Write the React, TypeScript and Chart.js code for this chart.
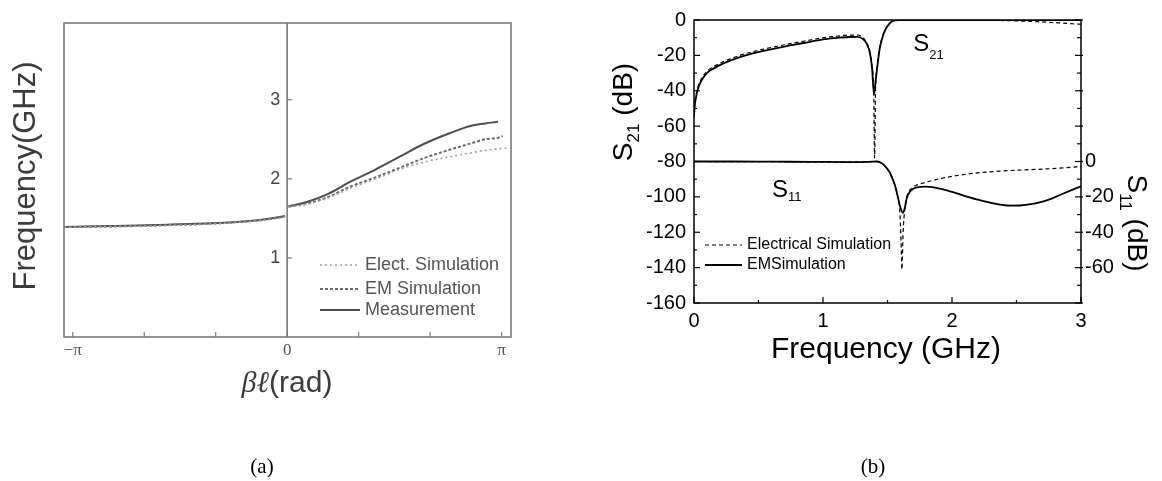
import React, { useEffect, useRef } from "react";
import { Chart, registerables } from "chart.js";
Chart.register(...registerables);

const PI = Math.PI;
const SANS = "'Liberation Sans', Arial, sans-serif";
const SERIF = "'Liberation Serif', 'Times New Roman', serif";

// ---------- Panel (a): dispersion diagram ----------
const betaLeft = [-3.27, -2.8, -2.2, -1.76, -1.2, -0.79, -0.4, -0.15, -0.03];
const measLeft = [1.39, 1.4, 1.41, 1.42, 1.435, 1.45, 1.48, 1.51, 1.53];
const emLeft = [1.39, 1.395, 1.405, 1.415, 1.43, 1.45, 1.475, 1.505, 1.525];
const electLeft = [1.385, 1.395, 1.4, 1.41, 1.425, 1.445, 1.47, 1.5, 1.52];

const betaRight = [0.02, 0.3, 0.6, 0.92, 1.3, 1.65, 2.0, 2.39, 2.7, 2.9, 3.09, 3.16, 3.25];
const measRight = [1.65, 1.71, 1.81, 1.96, 2.12, 2.28, 2.44, 2.58, 2.67, 2.7, 2.72, null, null];
const emRight = [1.65, 1.69, 1.77, 1.9, 2.02, 2.14, 2.26, 2.37, 2.45, 2.5, 2.52, 2.54, null];
const electRight = [1.64, 1.68, 1.76, 1.88, 2.0, 2.12, 2.21, 2.28, 2.33, 2.36, 2.38, 2.385, 2.39];

const aXTicks = [-PI, (-2 * PI) / 3, -PI / 3, 0, PI / 3, (2 * PI) / 3, PI];
const aXTickLabels = ["\u2212\u03c0", "", "", "0", "", "", "\u03c0"];
const aYTicks = [1, 2, 3];
const aYTickLabels = ["1", "2", "3"];
const aLegend = ["Elect. Simulation", "EM Simulation", "Measurement"];

// ---------- Panel (b): S-parameters ----------
const fS21EM = [0, 0.005, 0.015, 0.03, 0.06, 0.1, 0.15, 0.2, 0.28, 0.4, 0.54, 0.7, 0.85, 1.0, 1.1, 1.2, 1.27, 1.31, 1.34, 1.365, 1.38, 1.395, 1.41, 1.42, 1.44, 1.46, 1.48, 1.51, 1.54, 1.6, 1.7, 2.0, 2.5, 3.0];
const s21EM = [-55, -49, -44, -39, -34, -30, -27.5, -25.5, -23, -20, -17.5, -15, -13, -11, -10.2, -9.6, -9.5, -10.8, -13.5, -19, -27, -42, -33, -27, -16, -10, -6, -2.5, -0.6, -0.1, 0, 0, 0, 0];

const fS21El = [0, 0.005, 0.015, 0.03, 0.06, 0.1, 0.15, 0.2, 0.28, 0.4, 0.54, 0.7, 0.85, 1.0, 1.1, 1.2, 1.27, 1.31, 1.34, 1.365, 1.38, 1.393, 1.4, 1.407, 1.42, 1.44, 1.46, 1.48, 1.51, 1.54, 1.6, 1.7, 2.0, 2.4, 2.7, 3.0];
const s21El = [-54, -48, -43, -38, -33, -29, -26.5, -24.5, -22, -19, -16.5, -14, -12, -10, -9.2, -8.5, -8.5, -10, -13, -18.5, -26, -40, -78, -40, -26, -15.5, -9.5, -5.5, -2.3, -0.5, -0.1, 0, 0, -0.3, -1.1, -2.4];

const fS11EM = [0, 0.3, 0.6, 0.9, 1.2, 1.35, 1.42, 1.46, 1.49, 1.52, 1.54, 1.56, 1.58, 1.6, 1.62, 1.635, 1.65, 1.68, 1.73, 1.8, 1.93, 2.19, 2.47, 2.71, 2.85, 3.0];
const s11EM = [0, 0, -0.1, -0.2, -0.3, -0.2, 0, -1.2, -3.4, -6.5, -10, -14, -20, -26, -29, -26, -20.5, -16.5, -14.6, -14.2, -15.8, -21.4, -25, -22.5, -18.5, -14];

const fS11El = [0, 0.6, 1.2, 1.42, 1.46, 1.49, 1.52, 1.54, 1.56, 1.58, 1.595, 1.605, 1.612, 1.62, 1.635, 1.66, 1.7, 1.73, 3.0];
const s11El = [0, -0.1, -0.3, 0, -1.2, -3.4, -6.5, -10, -14, -20, -28, -45, -61, -42, -26, -18, -14.5, -13.2, -2.8];

const bXLabels = [0, 1, 2, 3];
const bYLeftLabels = [0, -20, -40, -60, -80, -100, -120, -140, -160];
const bYRightLabels = [0, -20, -40, -60];
const bLegend = ["Electrical Simulation", "EMSimulation"];

type Pt = { x: number; y: number | null };
const pts = (xs: number[], ys: (number | null)[]): Pt[] => xs.map((x, i) => ({ x, y: ys[i] }));
const split = (l: Pt[], r: Pt[]): Pt[] => [...l, { x: 0, y: null }, ...r];

type Part = { text: string; font: string; dy?: number };
function drawParts(ctx: CanvasRenderingContext2D, parts: Part[], x: number, y: number, rot: number, align: "left" | "center", color: string) {
  ctx.save();
  ctx.translate(x, y);
  ctx.rotate(rot);
  ctx.fillStyle = color;
  ctx.textBaseline = "alphabetic";
  ctx.textAlign = "left";
  let total = 0;
  const widths = parts.map((p) => {
    ctx.font = p.font;
    const w = ctx.measureText(p.text).width;
    total += w;
    return w;
  });
  let cx = align === "center" ? -total / 2 : 0;
  parts.forEach((p, i) => {
    ctx.font = p.font;
    ctx.fillText(p.text, cx, p.dy || 0);
    cx += widths[i];
  });
  ctx.restore();
}

function line(ctx: CanvasRenderingContext2D, x1: number, y1: number, x2: number, y2: number) {
  ctx.beginPath();
  ctx.moveTo(x1, y1);
  ctx.lineTo(x2, y2);
  ctx.stroke();
}

function legendRow(ctx: CanvasRenderingContext2D, ds: any, x1: number, x2: number, y: number, text: string, font: string, color: string) {
  ctx.save();
  ctx.strokeStyle = ds.borderColor;
  ctx.lineWidth = ds.borderWidth;
  ctx.setLineDash(ds.borderDash || []);
  line(ctx, x1, y, x2, y);
  ctx.restore();
  ctx.save();
  ctx.fillStyle = color;
  ctx.font = font;
  ctx.textBaseline = "middle";
  ctx.textAlign = "left";
  ctx.fillText(text, x2 + 5, y);
  ctx.restore();
}

const panelAPlugin = {
  id: "panelA",
  afterDatasetsDraw(chart: any) {
    const { ctx, chartArea: ca, scales } = chart;
    const x = scales.x;
    const y = scales.y;
    const axisColor = "#7a7a7a";
    ctx.save();
    ctx.strokeStyle = axisColor;
    ctx.lineWidth = 1.6;
    ctx.strokeRect(ca.left, ca.top, ca.right - ca.left, ca.bottom - ca.top);
    const x0 = x.getPixelForValue(0);
    line(ctx, x0, ca.top, x0, ca.bottom);
    ctx.lineWidth = 1.2;
    ctx.fillStyle = "#444";
    ctx.font = `18px ${SANS}`;
    ctx.textAlign = "right";
    ctx.textBaseline = "middle";
    aYTicks.forEach((v, i) => {
      const py = y.getPixelForValue(v);
      line(ctx, x0, py, x0 + 5, py);
      ctx.fillText(aYTickLabels[i], x0 - 7, py);
    });
    aXTicks.forEach((v) => {
      const px = x.getPixelForValue(v);
      line(ctx, px, ca.bottom, px, ca.bottom - 5);
    });
    ctx.restore();

    const ds = chart.data.datasets;
    const rowsY = [265, 289, 310];
    aLegend.forEach((t, i) => legendRow(ctx, ds[i], 320, 360, rowsY[i], t, `18px ${SANS}`, "#555"));

    drawParts(ctx, [{ text: "Frequency(GHz)", font: `31px ${SANS}` }], 35, 176, -PI / 2, "center", "#3c3c3c");
    drawParts(
      ctx,
      [
        { text: "\u03b2\u2113", font: `italic 30px ${SERIF}` },
        { text: "(rad)", font: `30px ${SANS}` },
      ],
      287,
      392,
      0,
      "center",
      "#3c3c3c"
    );
  },
};

const panelBPlugin = {
  id: "panelB",
  afterDatasetsDraw(chart: any) {
    const { ctx, chartArea: ca, scales } = chart;
    const x = scales.x;
    const y = scales.y;
    const y1 = scales.y1;
    ctx.save();
    ctx.strokeStyle = "#000";
    ctx.lineWidth = 1.5;
    ctx.strokeRect(ca.left, ca.top, ca.right - ca.left, ca.bottom - ca.top);
    ctx.lineWidth = 1.2;
    x.ticks.forEach((t: any) => {
      const px = x.getPixelForValue(t.value);
      const major = Number.isInteger(t.value);
      line(ctx, px, ca.bottom, px, ca.bottom - (major ? 6 : 3));
    });
    y.ticks.forEach((t: any) => {
      const py = y.getPixelForValue(t.value);
      const major = Math.abs(t.value % 20) < 1e-6;
      line(ctx, ca.left, py, ca.left + (major ? 6 : 3), py);
    });
    y1.ticks.forEach((t: any) => {
      const py = y1.getPixelForValue(t.value);
      const major = Math.abs(t.value % 20) < 1e-6;
      line(ctx, ca.right - (major ? 6 : 4), py, ca.right + (major ? 2 : 0), py);
    });
    ctx.restore();

    const ds = chart.data.datasets;
    legendRow(ctx, ds[0], 705, 742, 245, bLegend[0], `16px ${SANS}`, "#000");
    legendRow(ctx, ds[1], 705, 742, 265, bLegend[1], `16px ${SANS}`, "#000");

    drawParts(
      ctx,
      [
        { text: "S", font: `24px ${SANS}` },
        { text: "21", font: `13px ${SANS}`, dy: 8 },
      ],
      x.getPixelForValue(1.7),
      y.getPixelForValue(-17.5),
      0,
      "left",
      "#000"
    );
    drawParts(
      ctx,
      [
        { text: "S", font: `24px ${SANS}` },
        { text: "11", font: `13px ${SANS}`, dy: 4 },
      ],
      x.getPixelForValue(0.605),
      y.getPixelForValue(-100.3),
      0,
      "left",
      "#000"
    );

    drawParts(
      ctx,
      [
        { text: "S", font: `28px ${SANS}` },
        { text: "21", font: `17px ${SANS}`, dy: 7 },
        { text: " (dB)", font: `28px ${SANS}` },
      ],
      632,
      112,
      -PI / 2,
      "center",
      "#000"
    );
    drawParts(
      ctx,
      [
        { text: "S", font: `28px ${SANS}` },
        { text: "11", font: `17px ${SANS}`, dy: 8 },
        { text: " (dB)", font: `28px ${SANS}` },
      ],
      1128,
      223,
      PI / 2,
      "center",
      "#000"
    );
    drawParts(ctx, [{ text: "Frequency (GHz)", font: `30px ${SANS}` }], 886, 358, 0, "center", "#000");
  },
};

const W = 1162;
const H = 481;
// axis box sizes (labels are clipped to these boxes by Chart.js)
const AX_H = 40;
const BY_W = 100;
const BY1_W = 60;

export default function App() {
  const refA = useRef<HTMLCanvasElement>(null);
  const refB = useRef<HTMLCanvasElement>(null);

  useEffect(() => {
    Chart.defaults.font.family = SANS;
    const common = {
      pointRadius: 0,
      fill: false,
      cubicInterpolationMode: "monotone" as const,
      spanGaps: false,
    };
    const chartA = new Chart(refA.current!, {
      type: "line",
      data: {
        datasets: [
          { label: aLegend[0], data: split(pts(betaLeft, electLeft), pts(betaRight, electRight)), borderColor: "#a0a0a0", borderWidth: 1.6, borderDash: [2, 3], ...common },
          { label: aLegend[1], data: split(pts(betaLeft, emLeft), pts(betaRight, emRight)), borderColor: "#6a6a6a", borderWidth: 2, borderDash: [3, 2], ...common },
          { label: aLegend[2], data: split(pts(betaLeft, measLeft), pts(betaRight, measRight)), borderColor: "#4e4e4e", borderWidth: 2, ...common },
        ],
      } as any,
      options: {
        responsive: false,
        animation: false,
        layout: { padding: { left: 64, top: 23, right: W - 511, bottom: H - 337 - AX_H } },
        plugins: { legend: { display: false }, tooltip: { enabled: false } },
        scales: {
          x: {
            type: "linear",
            min: -3.27,
            max: 3.28,
            afterBuildTicks: (s: any) => {
              s.ticks = aXTicks.map((v) => ({ value: v }));
            },
            afterFit: (s: any) => {
              s.height = AX_H;
            },
            grid: { display: false, drawTicks: false },
            border: { display: false },
            ticks: {
              autoSkip: false,
              maxRotation: 0,
              padding: 3,
              color: "#555",
              font: { family: SERIF, size: 17 },
              callback: (_v: any, i: number) => aXTickLabels[i],
            },
          },
          y: { type: "linear", display: false, min: 0, max: 3.97 },
        },
      } as any,
      plugins: [panelAPlugin],
    });

    const chartB = new Chart(refB.current!, {
      type: "line",
      data: {
        datasets: [
          { label: bLegend[0], data: pts(fS21El, s21El), yAxisID: "y", borderColor: "#000", borderWidth: 1.2, borderDash: [4, 3], ...common },
          { label: bLegend[1], data: pts(fS21EM, s21EM), yAxisID: "y", borderColor: "#000", borderWidth: 1.8, ...common },
          { label: bLegend[0], data: pts(fS11El, s11El), yAxisID: "y1", borderColor: "#000", borderWidth: 1.2, borderDash: [4, 3], ...common },
          { label: bLegend[1], data: pts(fS11EM, s11EM), yAxisID: "y1", borderColor: "#000", borderWidth: 1.8, ...common },
        ],
      } as any,
      options: {
        responsive: false,
        animation: false,
        layout: { padding: { left: 694 - BY_W, top: 19, right: W - 1081 - BY1_W, bottom: H - 303 - AX_H } },
        plugins: { legend: { display: false }, tooltip: { enabled: false } },
        scales: {
          x: {
            type: "linear",
            min: 0,
            max: 3,
            afterFit: (s: any) => {
              s.height = AX_H;
            },
            grid: { display: false, drawTicks: false },
            border: { display: false },
            ticks: {
              stepSize: 0.5,
              autoSkip: false,
              maxRotation: 0,
              padding: 6,
              color: "#000",
              font: { size: 20 },
              callback: (v: any) => (bXLabels.includes(v) ? String(v) : ""),
            },
          },
          y: {
            type: "linear",
            position: "left",
            min: -160,
            max: 0,
            afterFit: (s: any) => {
              s.width = BY_W;
            },
            grid: { display: false, drawTicks: false },
            border: { display: false },
            ticks: {
              stepSize: 10,
              autoSkip: false,
              padding: 8,
              color: "#000",
              font: { size: 20 },
              callback: (v: any) => (bYLeftLabels.includes(v) ? String(v) : ""),
            },
          },
          y1: {
            type: "linear",
            position: "right",
            min: -80,
            max: 80,
            afterFit: (s: any) => {
              s.width = BY1_W;
            },
            grid: { display: false, drawTicks: false },
            border: { display: false },
            ticks: {
              stepSize: 10,
              autoSkip: false,
              padding: 4,
              color: "#000",
              font: { size: 20 },
              callback: (v: any) => (bYRightLabels.includes(v) ? String(v) : ""),
            },
          },
        },
      } as any,
      plugins: [panelBPlugin],
    });

    return () => {
      chartA.destroy();
      chartB.destroy();
    };
  }, []);

  const capStyle: React.CSSProperties = {
    position: "absolute",
    top: 454,
    fontFamily: SERIF,
    fontSize: 21,
    lineHeight: "24px",
    color: "#000",
    transform: "translateX(-50%)",
  };

  return (
    <div style={{ position: "absolute", left: 0, top: 0, width: W, height: H, background: "#fff", overflow: "hidden" }}>
      <canvas ref={refA} width={W} height={H} style={{ position: "absolute", left: 0, top: 0, display: "block" }} />
      <canvas ref={refB} width={W} height={H} style={{ position: "absolute", left: 0, top: 0, display: "block" }} />
      <div style={{ ...capStyle, left: 262 }}>(a)</div>
      <div style={{ ...capStyle, left: 873 }}>(b)</div>
    </div>
  );
}
